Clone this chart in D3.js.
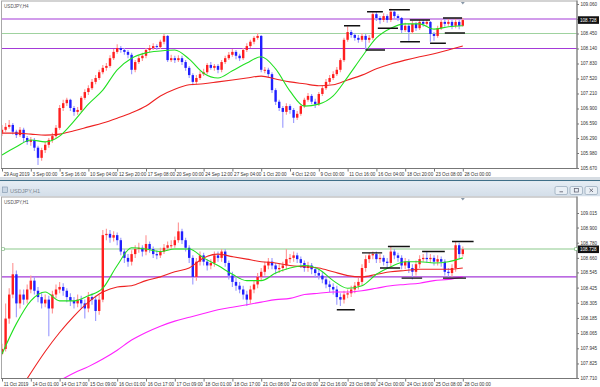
<!DOCTYPE html>
<html><head><meta charset="utf-8">
<script src="https://cdn.jsdelivr.net/npm/d3@7"></script>
<style>html,body{margin:0;padding:0;background:#fff;overflow:hidden}svg{display:block}</style>
</head><body><svg id="c" width="600" height="387"></svg>
<script>
// ---------- H4 panel data ----------
const h4Labels = ["29 Aug 2019","3 Sep 00:00","5 Sep 16:00","10 Sep 04:00","12 Sep 20:00","17 Sep 08:00","20 Sep 00:00","24 Sep 12:00","27 Sep 04:00","1 Oct 20:00","4 Oct 12:00","9 Oct 00:00","11 Oct 16:00","16 Oct 04:00","18 Oct 20:00","23 Oct 08:00","28 Oct 00:00"];
const h4Ticks = [109.060,108.750,108.450,108.140,107.830,107.520,107.210,106.900,106.590,106.290,105.980,105.670];
const h4Open0 = 106.40;
const h4Close = [106.46,106.52,106.56,106.42,106.35,106.46,106.29,106.21,106.25,106.09,
105.88,106.04,106.15,106.25,106.33,106.50,106.91,107.01,107.08,106.91,
106.83,106.87,107.12,107.24,107.32,107.45,107.53,107.65,107.74,107.78,
107.94,108.07,108.15,108.11,108.07,108.01,107.70,107.86,107.94,107.99,
108.11,108.15,108.19,108.17,108.28,108.40,107.90,107.94,107.90,107.94,
107.86,107.74,107.59,107.45,107.53,107.61,107.65,107.80,107.74,107.78,
107.70,107.86,107.94,108.01,108.07,107.99,107.94,108.11,108.19,108.28,
108.36,108.40,107.70,107.70,107.61,107.28,107.04,106.91,106.83,106.95,
106.87,106.71,106.79,106.95,107.08,107.16,107.04,106.99,107.20,107.32,
107.45,107.53,107.61,107.70,107.90,108.32,108.48,108.42,108.36,108.32,
108.40,108.32,108.36,108.85,108.77,108.73,108.81,108.73,108.90,108.81,
108.77,108.52,108.61,108.48,108.65,108.56,108.69,108.65,108.69,108.44,
108.40,108.56,108.69,108.65,108.69,108.61,108.69,108.61,108.728];
const h4High = [106.56,106.60,106.66,106.60,106.46,106.52,106.50,106.33,106.31,106.29,
106.13,106.09,106.21,106.29,106.40,106.56,106.97,107.08,107.12,107.10,
106.95,106.93,107.16,107.30,107.38,107.51,107.59,107.70,107.80,107.84,
108.00,108.13,108.23,108.19,108.15,108.11,108.05,107.90,107.99,108.05,
108.15,108.21,108.25,108.23,108.32,108.44,108.42,108.01,107.99,108.00,
107.99,107.90,107.78,107.63,107.59,107.67,107.72,107.84,107.86,107.82,
107.82,107.90,107.99,108.07,108.13,108.11,108.03,108.15,108.25,108.32,
108.40,108.46,108.42,107.76,107.74,107.65,107.32,107.08,106.95,107.01,
106.99,106.91,106.85,106.99,107.12,107.22,107.20,107.10,107.24,107.38,
107.51,107.59,107.67,107.76,107.94,108.36,108.60,108.52,108.46,108.42,
108.46,108.44,108.42,108.90,108.90,108.81,108.87,108.85,108.96,108.92,
108.85,108.79,108.67,108.65,108.71,108.69,108.75,108.73,108.73,108.71,
108.48,108.61,108.73,108.75,108.75,108.73,108.77,108.73,108.77];
const h4Low = [106.33,106.42,106.48,106.36,106.29,106.31,106.21,106.15,106.13,106.02,
105.73,105.82,105.98,106.09,106.19,106.29,106.46,106.85,106.95,106.85,
106.75,106.77,106.83,107.08,107.18,107.28,107.40,107.49,107.61,107.68,
107.74,107.90,108.03,108.05,108.01,107.94,107.61,107.65,107.82,107.88,
107.94,108.07,108.11,108.11,108.13,108.23,107.86,107.86,107.84,107.86,
107.80,107.68,107.53,107.38,107.40,107.49,107.57,107.61,107.70,107.68,
107.63,107.65,107.82,107.90,107.97,107.92,107.88,107.90,108.07,108.15,
108.23,108.32,107.65,107.63,107.55,107.22,106.97,106.85,106.50,106.77,
106.79,106.60,106.66,106.75,106.91,107.04,106.99,106.91,106.95,107.16,
107.28,107.40,107.49,107.57,107.65,107.86,108.28,108.36,108.30,108.26,
108.28,108.11,108.26,108.32,108.71,108.65,108.69,108.67,108.69,108.75,
108.71,108.46,108.48,108.30,108.44,108.50,108.52,108.59,108.61,108.28,
108.30,108.36,108.52,108.59,108.61,108.54,108.56,108.54,108.59];
// moving averages sampled every 4 bars
const h4MaFast = [105.94,106.11,106.25,106.21,106.33,106.64,106.99,107.28,107.70,107.94,108.05,108.09,108.11,107.92,107.63,107.53,107.68,107.84,107.97,107.72,107.26,106.95,106.99,107.16,107.55,107.97,108.36,108.56,108.65,108.65,108.54,108.59,108.61];
const h4MaSlow = [106.39,106.39,106.37,106.35,106.37,106.44,106.52,106.60,106.70,106.81,106.95,107.16,107.30,107.39,107.41,107.45,107.49,107.53,107.57,107.51,107.45,107.41,107.37,107.39,107.49,107.59,107.72,107.82,107.90,107.97,108.03,108.11,108.19];
const h4Levels = [108.75,108.45,108.14];
const h4Marks = [[95,99.5,108.61],[101,106.4,108.11],[101.4,105.8,108.90],[104.4,110,108.56],[107.5,113.3,108.94],[110.6,116.1,108.28],[113.3,118.9,108.73],[118.9,123.3,108.25],[122.5,127.8,108.77],[123,128.6,108.46]];

// ---------- H1 panel data ----------
const h1Labels = ["11 Oct 2019","14 Oct 01:00","14 Oct 17:00","15 Oct 09:00","16 Oct 01:00","16 Oct 17:00","17 Oct 09:00","18 Oct 01:00","18 Oct 17:00","21 Oct 08:00","22 Oct 00:00","22 Oct 16:00","23 Oct 08:00","24 Oct 00:00","24 Oct 16:00","25 Oct 08:00","28 Oct 00:00"];
const h1Ticks = [109.015,108.900,108.780,108.660,108.545,108.425,108.305,108.185,108.065,107.945,107.825,107.710];
const h1Open0 = 107.90;
const h1Close = [107.94,108.18,108.37,108.53,108.30,108.37,108.33,108.41,108.48,108.40,
108.35,108.30,108.33,108.26,108.37,108.41,108.43,108.40,108.35,108.32,
108.30,108.33,108.30,108.26,108.35,108.33,108.24,108.33,108.84,108.85,
108.82,108.84,108.80,108.71,108.66,108.63,108.69,108.73,108.74,108.71,
108.77,108.73,108.69,108.68,108.71,108.74,108.76,108.76,108.80,108.87,
108.80,108.74,108.66,108.51,108.63,108.68,108.63,108.60,108.62,108.68,
108.66,108.71,108.62,108.52,108.47,108.44,108.41,108.37,108.33,108.41,
108.45,108.51,108.55,108.60,108.63,108.60,108.57,108.58,108.60,108.65,
108.66,108.68,108.65,108.62,108.58,108.60,108.57,108.54,108.52,108.49,
108.45,108.43,108.41,108.35,108.33,108.37,108.38,108.41,108.44,108.47,
108.58,108.65,108.68,108.69,108.65,108.66,108.63,108.62,108.71,108.68,
108.66,108.60,108.63,108.58,108.55,108.61,108.65,108.66,108.65,108.66,
108.63,108.65,108.63,108.55,108.54,108.58,108.76,108.69,108.728];
const h1High = [107.98,108.30,108.42,108.62,108.56,108.41,108.41,108.45,108.52,108.51,
108.43,108.38,108.37,108.36,108.40,108.45,108.47,108.46,108.42,108.38,
108.35,108.37,108.36,108.33,108.39,108.38,108.36,108.37,108.88,108.89,
108.88,108.87,108.86,108.82,108.73,108.69,108.72,108.76,108.78,108.76,
108.84,108.79,108.75,108.72,108.74,108.77,108.79,108.80,108.83,108.94,
108.89,108.82,108.76,108.68,108.66,108.71,108.70,108.65,108.65,108.71,
108.71,108.73,108.73,108.64,108.55,108.50,108.47,108.44,108.40,108.44,
108.48,108.54,108.58,108.63,108.66,108.66,108.62,108.62,108.63,108.73,
108.69,108.71,108.70,108.67,108.64,108.63,108.62,108.59,108.57,108.55,
108.51,108.48,108.46,108.44,108.38,108.40,108.41,108.44,108.47,108.50,
108.61,108.68,108.70,108.71,108.71,108.69,108.68,108.66,108.75,108.73,
108.70,108.68,108.66,108.65,108.61,108.64,108.68,108.69,108.71,108.69,
108.68,108.68,108.67,108.65,108.58,108.61,108.79,108.78,108.75];
const h1Low = [107.89,107.92,108.14,108.34,108.19,108.26,108.29,108.30,108.38,108.37,
108.31,108.26,108.27,108.04,108.22,108.34,108.38,108.36,108.31,108.28,
108.26,108.27,108.26,108.18,108.23,108.29,108.16,108.21,108.31,108.80,
108.78,108.79,108.76,108.68,108.62,108.59,108.60,108.66,108.70,108.67,
108.68,108.70,108.66,108.65,108.66,108.69,108.72,108.73,108.74,108.78,
108.77,108.71,108.62,108.45,108.48,108.60,108.60,108.56,108.57,108.59,
108.63,108.63,108.59,108.49,108.43,108.40,108.38,108.33,108.28,108.30,
108.38,108.42,108.48,108.52,108.57,108.57,108.53,108.54,108.55,108.57,
108.62,108.63,108.62,108.58,108.55,108.55,108.53,108.50,108.49,108.46,
108.42,108.39,108.37,108.29,108.28,108.30,108.34,108.35,108.38,108.41,
108.44,108.55,108.62,108.65,108.62,108.62,108.60,108.58,108.59,108.65,
108.63,108.57,108.57,108.54,108.49,108.52,108.58,108.63,108.62,108.62,
108.60,108.60,108.59,108.52,108.50,108.51,108.55,108.66,108.67];
const h1MaFast = [107.90,108.14,108.32,108.39,108.32,108.32,108.36,108.42,108.60,108.74,108.73,108.71,108.73,108.73,108.66,108.60,108.53,108.48,108.48,108.54,108.58,108.60,108.57,108.48,108.42,108.44,108.53,108.59,108.63,108.63,108.62,108.63,108.66];
const h1MaMid = [107.39,107.57,107.75,107.92,108.07,108.20,108.31,108.39,108.43,108.44,108.48,108.51,108.55,108.58,108.66,108.69,108.67,108.65,108.63,108.62,108.60,108.59,108.58,108.55,108.52,108.51,108.53,108.55,108.56,108.57,108.57,108.57,108.58];
const h1MaSlow = [107.47,107.53,107.58,107.64,107.69,107.75,107.80,107.86,107.93,108.01,108.07,108.12,108.16,108.19,108.22,108.25,108.27,108.29,108.31,108.33,108.34,108.37,108.38,108.39,108.39,108.40,108.42,108.44,108.45,108.46,108.48,108.49,108.51];
const h1Levels = [108.73,108.51];
const h1Marks = [[93,98,108.25],[100,105.6,108.70],[105,110.6,108.58],[107.2,113.3,108.75],[111,116.7,108.50],[116.7,123,108.71],[122.5,128.9,108.50],[125,131,108.79]];

// ---------- drawing ----------
const svg = d3.select('#c');
const FONT = '"Liberation Sans", Arial, sans-serif';
const BULL = '#ff1f1f', BEAR = '#2020ff', BULLW = '#ff9c9c', BEARW = '#a0a0ff';
const PURPLE = '#a43ad8', LGREEN = '#9fd29f', LGREEN2 = '#8cc98c', GREEN = '#22e022', RED = '#ee2222', MAG = '#ff22ff';
const AXR = 577;

function panel(o) {
  const n = o.close.length;
  const x = d3.scaleLinear().domain([0, n - 1]).range([2, 2 + 3.6 * (n - 1)]);
  const y = d3.scaleLinear().domain([o.ticks[o.ticks.length - 1], o.ticks[0]]).range([o.tickBot, o.tickTop]);
  const g = svg.append('g');
  g.append('rect').attr('x', 0).attr('y', o.y0).attr('width', 600).attr('height', o.hEnd - o.y0).attr('fill', '#fff');
  const cid = 'clip' + o.name;
  svg.append('defs').append('clipPath').attr('id', cid).append('rect')
    .attr('x', 1.5).attr('y', o.y0 + 1).attr('width', AXR - 1.5).attr('height', o.y1 - o.y0 - 1);
  const p = g.append('g').attr('clip-path', `url(#${cid})`);

  // level lines
  o.levels.forEach((v, j) => {
    p.append('line').attr('x1', 0).attr('x2', AXR).attr('y1', y(v)).attr('y2', y(v))
      .attr('stroke', o.levelColors[j]).attr('stroke-width', 1.1);
  });

  // candles
  const bars = o.close.map((c, i) => ({ i, o: i === 0 ? o.open0 : o.close[i - 1], c, h: o.high[i], l: o.low[i] }));
  const cg = p.append('g');
  cg.selectAll('line.w').data(bars).join('line')
    .attr('x1', d => x(d.i)).attr('x2', d => x(d.i))
    .attr('y1', d => y(d.h)).attr('y2', d => y(d.l))
    .attr('stroke', d => d.c >= d.o ? BULLW : BEARW).attr('stroke-width', 1.2);
  cg.selectAll('rect.b').data(bars).join('rect')
    .attr('x', d => x(d.i) - 1.2).attr('width', 2.4)
    .attr('y', d => y(Math.max(d.o, d.c)))
    .attr('height', d => Math.max(1, Math.abs(y(d.o) - y(d.c))))
    .attr('fill', d => d.c >= d.o ? BULL : BEAR);

  // moving averages
  const idx = d3.range(0, n, 4);
  o.mas.forEach((arr, j) => {
    p.append('path').datum(arr)
      .attr('d', d3.line().x((d, k) => x(idx[k])).y(d => y(d)).curve(d3.curveMonotoneX))
      .attr('fill', 'none').attr('stroke', o.maColors[j]).attr('stroke-width', 1.1);
  });

  // support / resistance marks
  p.selectAll('line.m').data(o.marks).join('line')
    .attr('x1', d => x(d[0])).attr('x2', d => x(d[1]))
    .attr('y1', d => y(d[2])).attr('y2', d => y(d[2]))
    .attr('stroke', '#111').attr('stroke-width', 1.4);

  // frame
  g.append('rect').attr('x', 1.5).attr('y', o.y0 + 0.5).attr('width', AXR - 1.5).attr('height', o.y1 - o.y0 - 0.5)
    .attr('fill', 'none').attr('stroke', '#a8a8a8').attr('stroke-width', 1);
  g.append('line').attr('x1', AXR).attr('x2', AXR).attr('y1', o.y0).attr('y2', o.y1 + 0.5).attr('stroke', '#777');
  g.append('line').attr('x1', 1).attr('x2', AXR).attr('y1', o.y1).attr('y2', o.y1).attr('stroke', '#777');

  // shift marker
  const sx = x(n - 1);
  g.append('path').attr('d', `M${sx - 2},${o.y0 + 1.5}L${sx + 2},${o.y0 + 1.5}L${sx},${o.y0 + 4}Z`).attr('fill', '#8898a8');

  // price axis
  const ya = g.append('g').attr('transform', `translate(${AXR},0)`)
    .call(d3.axisRight(y).tickValues(o.ticks).tickFormat(d3.format('.3f')).tickSize(2).tickPadding(1.5));
  ya.select('.domain').remove();
  ya.selectAll('line').attr('stroke', '#777');
  ya.selectAll('text').attr('font-family', FONT).attr('font-size', 4.6).attr('fill', '#333');

  // time axis
  const xa = g.append('g').attr('transform', `translate(0,${o.y1})`)
    .call(d3.axisBottom(x).tickValues(d3.range(0, n, 8)).tickFormat((d, k) => o.labels[k]).tickSize(3).tickPadding(1));
  xa.select('.domain').remove();
  xa.selectAll('line').attr('stroke', '#777');
  xa.selectAll('text').attr('font-family', FONT).attr('font-size', 4.6).attr('fill', '#333')
    .attr('text-anchor', 'start').attr('dx', 1.2);

  // current price box
  const cy = y(o.close[n - 1]);
  g.append('rect').attr('x', AXR + 1).attr('y', cy - 3.8).attr('width', 21).attr('height', 7.6).attr('fill', '#111');
  g.append('text').attr('x', AXR + 3).attr('y', cy + 1.7).attr('font-family', FONT).attr('font-size', 4.6)
    .attr('fill', '#fff').text(d3.format('.3f')(o.close[n - 1]));

  // symbol label
  g.append('text').attr('x', 4).attr('y', o.y0 + 7).attr('font-family', FONT).attr('font-size', 4.6)
    .attr('fill', '#555').text(o.title);
  return { x, y, g };
}

// top window
panel({ name: 'h4', title: 'USDJPY,H4', y0: 0.5, y1: 168.5, hEnd: 177, tickTop: 4, tickBot: 168,
  ticks: h4Ticks, labels: h4Labels, open0: h4Open0, close: h4Close, high: h4High, low: h4Low,
  mas: [h4MaSlow, h4MaFast], maColors: [RED, GREEN], levels: h4Levels, levelColors: [PURPLE, LGREEN, PURPLE], marks: h4Marks });

// separator + title bar of second window
svg.append('rect').attr('x', 0).attr('y', 177).attr('width', 600).attr('height', 3).attr('fill', '#d7dde3');
svg.append('rect').attr('x', 0).attr('y', 180).attr('width', 600).attr('height', 1.2).attr('fill', '#3f6f88');
const grad = svg.append('defs').append('linearGradient').attr('id', 'tb').attr('x1', 0).attr('x2', 0).attr('y1', 0).attr('y2', 1);
grad.append('stop').attr('offset', 0).attr('stop-color', '#e6edf4');
grad.append('stop').attr('offset', 1).attr('stop-color', '#d3dee9');
svg.append('rect').attr('x', 0).attr('y', 181.2).attr('width', 600).attr('height', 15.3).attr('fill', 'url(#tb)');
svg.append('rect').attr('x', 2.5).attr('y', 187).attr('width', 5).attr('height', 5.5).attr('fill', '#c9d6e4').attr('stroke', '#7c93ab').attr('stroke-width', 0.6);
svg.append('text').attr('x', 10).attr('y', 192.5).attr('font-family', FONT).attr('font-size', 5.6).attr('fill', '#7d8893').text('USDJPY,H1');
[555, 570, 585].forEach((bx, k) => {
  svg.append('rect').attr('x', bx).attr('y', 186.5).attr('width', 12.5).attr('height', 8).attr('rx', 1.5)
    .attr('fill', '#e9eff5').attr('stroke', '#94a6b8').attr('stroke-width', 0.7);
  if (k === 0) svg.append('line').attr('x1', bx + 4.5).attr('x2', bx + 8).attr('y1', 191.8).attr('y2', 191.8).attr('stroke', '#556').attr('stroke-width', 0.8);
  if (k === 1) svg.append('rect').attr('x', bx + 4.3).attr('y', 188.6).attr('width', 4).attr('height', 3.4).attr('fill', 'none').attr('stroke', '#556').attr('stroke-width', 0.7);
  if (k === 2) svg.append('path').attr('d', `M${bx + 4.5},${188.7}L${bx + 8},${192}M${bx + 8},${188.7}L${bx + 4.5},${192}`).attr('stroke', '#556').attr('stroke-width', 0.8);
});

// bottom window
const b = panel({ name: 'h1', title: 'USDJPY,H1', y0: 196.5, y1: 378.5, hEnd: 387, tickTop: 213, tickBot: 378,
  ticks: h1Ticks, labels: h1Labels, open0: h1Open0, close: h1Close, high: h1High, low: h1Low,
  mas: [h1MaSlow, h1MaMid, h1MaFast], maColors: [MAG, RED, GREEN], levels: h1Levels, levelColors: [LGREEN2, PURPLE], marks: h1Marks });
// level anchors
[3, AXR - 1].forEach(ax => b.g.append('rect').attr('x', ax - 1.3).attr('y', b.y(h1Levels[0]) - 1.3).attr('width', 2.6).attr('height', 2.6)
  .attr('fill', '#fff').attr('stroke', '#6fb06f').attr('stroke-width', 0.6));
</script></body></html>
